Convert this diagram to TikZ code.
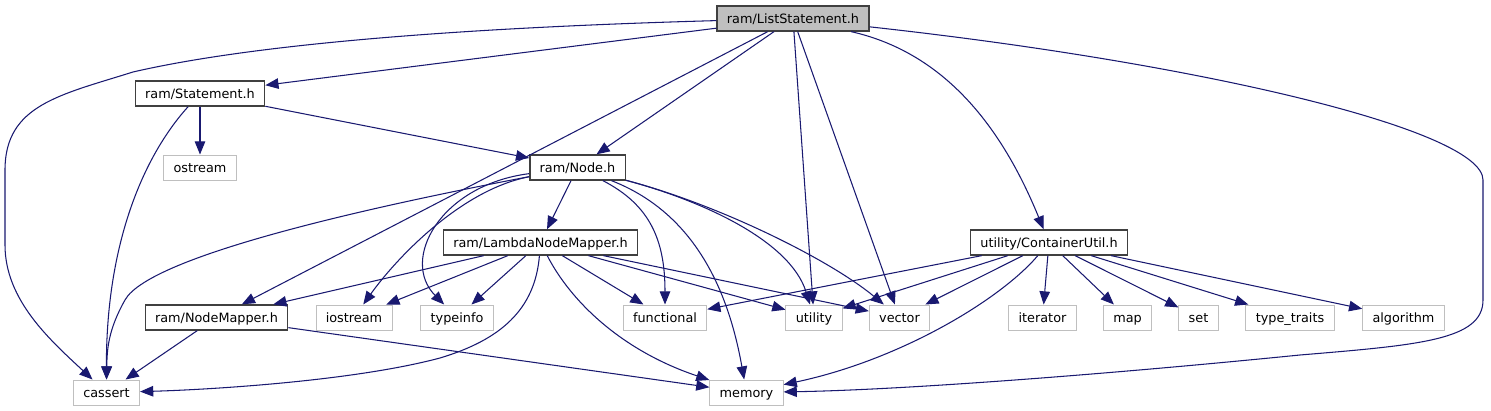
\documentclass[tikz,border=0pt]{standalone}
\usepackage{fontspec}
\setmainfont{DejaVu Sans}
\usetikzlibrary{arrows.meta}
\definecolor{edgeblue}{RGB}{25,25,112}
\definecolor{docgray}{RGB}{191,191,191}

\begin{document}
\begin{tikzpicture}[
    x=0.02cm, y=-0.02cm,
    file/.style={rectangle, draw=black!75, fill=white, line width=0.75pt,
                 minimum height=0.5cm, inner xsep=5.6pt, inner ysep=0pt,
                 text height=0.74em, text depth=0.2em,
                 font=\fontsize{7.3}{9}\selectfont},
    root/.style={file, fill=docgray},
    sys/.style={file, draw=docgray, line width=0.55pt},
    dep/.style={-{Triangle[length=7.5pt,width=6pt]}, draw=edgeblue, line width=0.6pt}
]
\useasboundingbox (0,0) rectangle (1491,411);

% Project headers
\node[root] (ls)    at (793,18.5)   {ram/ListStatement.h};
\node[file] (stmt)  at (200,93.5)   {ram/Statement.h};
\node[file] (nodeh) at (577.5,167.5) {ram/Node.h};
\node[file] (lnm)   at (540.5,242.5) {ram/LambdaNodeMapper.h};
\node[file] (cutil) at (1049,242.5) {utility/ContainerUtil.h};
\node[file] (nmap)  at (216.5,317.5) {ram/NodeMapper.h};

% System headers
\node[sys] (ostream)    at (200,167.5)   {ostream};
\node[sys] (iostream)   at (354,317.5)   {iostream};
\node[sys] (typeinfo)   at (457,317.5)   {typeinfo};
\node[sys] (functional) at (665,317.5)   {functional};
\node[sys] (utility)    at (814,317.5)   {utility};
\node[sys] (vector)     at (899.5,317.5) {vector};
\node[sys] (iterator)   at (1042.5,317.5) {iterator};
\node[sys] (map)        at (1127.5,317.5) {map};
\node[sys] (set)        at (1198.5,317.5) {set};
\node[sys] (typetraits) at (1290,317.5)  {type\_traits};
\node[sys] (algorithm)  at (1403.5,317.5) {algorithm};
\node[sys] (cassert)    at (106.5,392.5) {cassert};
\node[sys] (memory)     at (746.5,392.5) {memory};

% ram/ListStatement.h
\draw[dep] (ls) .. controls (450,28) and (250,45) .. (133,72)
           .. controls (60,95) and (5,105) .. (5,170) -- (5,245)
           .. controls (5,300) and (50,340) .. (cassert);
\draw[dep] (ls) -- (stmt);
\draw[dep] (ls) -- (nmap);
\draw[dep] (ls) -- (nodeh);
\draw[dep] (ls) -- (utility);
\draw[dep] (ls) -- (vector);
\draw[dep] (ls) .. controls (950,54) and (1005,135) .. (cutil);
\draw[dep] (ls) .. controls (1200,63) and (1483,130) .. (1483,180) -- (1483,300)
           .. controls (1483,340) and (1420,345) .. (1300,355)
           .. controls (1100,375) and (900,390) .. (memory);

% ram/Statement.h
\draw[dep] (stmt) -- (ostream);
\draw[dep] (stmt) .. controls (140,160) and (106,250) .. (cassert);
\draw[dep] (stmt) -- (nodeh);

% ram/Node.h
\draw[dep] (nodeh) -- (lnm);
\draw[dep] (nodeh) .. controls (380,205) and (150,255) .. (125,300)
           .. controls (108,330) and (107,350) .. (cassert);
\draw[dep] (nodeh) .. controls (460,190) and (395,260) .. (iostream);
\draw[dep] (nodeh) .. controls (440,185) and (400,260) .. (typeinfo);
\draw[dep] (nodeh) .. controls (650,205) and (665,240) .. (functional);
\draw[dep] (nodeh) .. controls (700,215) and (730,300) .. (memory);
\draw[dep] (nodeh) .. controls (700,200) and (790,240) .. (utility);
\draw[dep] (nodeh) .. controls (720,205) and (830,260) .. (vector);

% ram/LambdaNodeMapper.h
\draw[dep] (lnm) -- (nmap);
\draw[dep] (lnm) -- (iostream);
\draw[dep] (lnm) -- (typeinfo);
\draw[dep] (lnm) .. controls (535,310) and (500,340) .. (440,358)
           .. controls (350,382) and (200,390) .. (cassert);
\draw[dep] (lnm) .. controls (570,300) and (620,350) .. (memory);
\draw[dep] (lnm) -- (functional);
\draw[dep] (lnm) -- (utility);
\draw[dep] (lnm) -- (vector);

% ram/NodeMapper.h
\draw[dep] (nmap) -- (cassert);
\draw[dep] (nmap) -- (memory);

% utility/ContainerUtil.h
\draw[dep] (cutil) -- (functional);
\draw[dep] (cutil) -- (utility);
\draw[dep] (cutil) -- (vector);
\draw[dep] (cutil) .. controls (1000,300) and (900,360) .. (memory);
\draw[dep] (cutil) -- (iterator);
\draw[dep] (cutil) -- (map);
\draw[dep] (cutil) -- (set);
\draw[dep] (cutil) -- (typetraits);
\draw[dep] (cutil) -- (algorithm);

\end{tikzpicture}
\end{document}
